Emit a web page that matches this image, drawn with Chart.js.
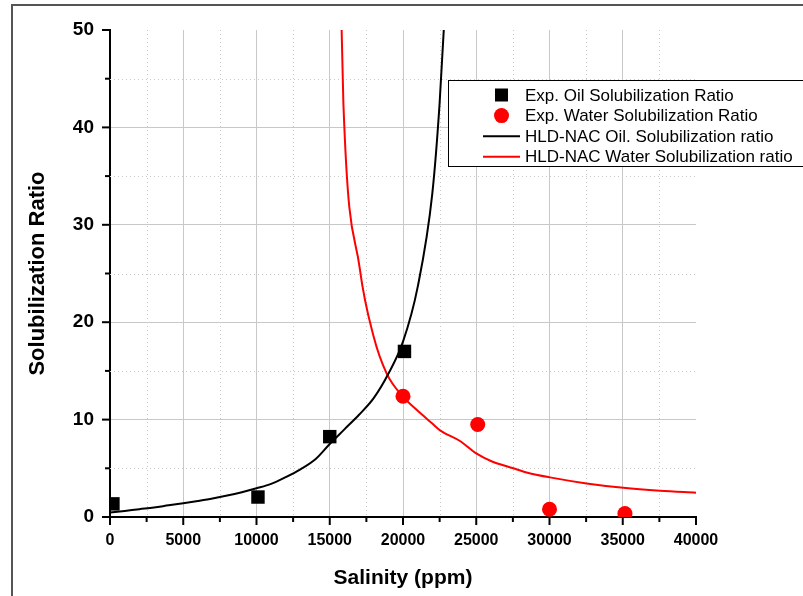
<!DOCTYPE html>
<html>
<head>
<meta charset="utf-8">
<script src="https://cdn.jsdelivr.net/npm/chart.js@4.4.1/dist/chart.umd.min.js"></script>
<style>
  html, body { margin: 0; padding: 0; background: #fff; }
  #wrap { width: 803px; height: 596px; }
</style>
</head>
<body>
<div id="wrap"><canvas id="myChart" width="803" height="596"></canvas></div>
<script>
// experimental points
var oilSalinity = [200, 10100, 15000, 20100];
var oilRatio = [1.35, 2.05, 8.25, 17.0];
var waterSalinity = [20000, 25100, 30000, 35150];
var waterRatio = [12.4, 9.5, 0.8, 0.35];

// HLD-NAC model curves
var oilCurveSalinity = [0, 1000, 2000, 3000, 4000, 5000, 6000, 7000, 8000, 9000, 10000, 11000, 12000,
  13000, 14000, 15000, 16000, 17000, 18000, 19000, 20000, 21000, 22000, 22500, 23000];
var oilCurveRatio = [0.45, 0.62, 0.8, 0.97, 1.2, 1.42, 1.65, 1.9, 2.2, 2.55, 2.95, 3.4, 4.1,
  4.9, 5.9, 7.5, 9.0, 10.5, 12.2, 14.7, 18.0, 23.6, 33.2, 42.5, 56];
var waterCurveSalinity = [15770, 15930, 17050, 18000, 18880, 20000, 20930, 22000, 22530, 23890,
  25030, 26000, 27530, 28500, 30030, 32530, 35040, 37540, 40000];
var waterCurveRatio = [53, 42.5, 25.5, 18.5, 14.75, 12.35, 11.0, 9.6, 8.9, 7.8,
  6.5, 5.75, 5.0, 4.55, 4.07, 3.45, 3.0, 2.7, 2.5];

var xTicks = [0, 5000, 10000, 15000, 20000, 25000, 30000, 35000, 40000];
var yTicks = [0, 10, 20, 30, 40, 50];

var FONT = 'Arial, "Liberation Sans", sans-serif';

function pairs(xs, ys) {
  return xs.map(function (x, i) { return { x: x, y: ys[i] }; });
}

// minor dotted grid, tick marks, outer frame and legend box
var decorations = {
  id: 'decorations',
  beforeDatasetsDraw: function (chart) {
    var ctx = chart.ctx, a = chart.chartArea;
    var xs = chart.scales.x, ys = chart.scales.y;
    ctx.save();
    ctx.strokeStyle = '#c8c8c8';
    ctx.lineWidth = 1;
    ctx.setLineDash([1, 3]);
    for (var v = 2500; v < 40000; v += 5000) {
      var px = Math.round(xs.getPixelForValue(v)) + 0.5;
      ctx.beginPath(); ctx.moveTo(px, a.top); ctx.lineTo(px, a.bottom); ctx.stroke();
    }
    for (var w = 5; w < 50; w += 10) {
      var py = Math.round(ys.getPixelForValue(w)) + 0.5;
      ctx.beginPath(); ctx.moveTo(a.left, py); ctx.lineTo(a.right, py); ctx.stroke();
    }
    ctx.restore();
  },
  afterDraw: function (chart) {
    var ctx = chart.ctx, a = chart.chartArea;
    var xs = chart.scales.x, ys = chart.scales.y;
    ctx.save();
    // tick marks
    ctx.strokeStyle = '#000';
    ctx.lineWidth = 2;
    for (var v = 0; v <= 40000; v += 2500) {
      var px = xs.getPixelForValue(v);
      var len = v % 5000 === 0 ? 8 : 5;
      ctx.beginPath(); ctx.moveTo(px, a.bottom); ctx.lineTo(px, a.bottom + len); ctx.stroke();
    }
    for (var w = 0; w <= 50; w += 5) {
      var py = ys.getPixelForValue(w);
      var l2 = w % 10 === 0 ? 8 : 5;
      ctx.beginPath(); ctx.moveTo(a.left, py); ctx.lineTo(a.left - l2, py); ctx.stroke();
    }
    // outer frame
    ctx.strokeStyle = '#555';
    ctx.lineWidth = 2;
    ctx.beginPath();
    ctx.moveTo(12, chart.height);
    ctx.lineTo(12, 5);
    ctx.lineTo(chart.width, 5);
    ctx.stroke();

    // legend
    var lx = 448.5, ly = 80.5, lw = 360, lh = 86;
    ctx.fillStyle = '#fff';
    ctx.fillRect(lx, ly, lw, lh);
    ctx.strokeStyle = '#000';
    ctx.lineWidth = 1;
    ctx.strokeRect(lx, ly, lw, lh);
    ctx.font = '17px ' + FONT;
    ctx.textBaseline = 'middle';
    ctx.textAlign = 'left';
    chart.data.datasets.forEach(function (ds, i) {
      var cy = 95 + i * 20.6;
      ctx.fillStyle = ds.borderColor;
      ctx.strokeStyle = ds.borderColor;
      if (ds.showLine) {
        ctx.lineWidth = 2;
        ctx.beginPath(); ctx.moveTo(483, cy); ctx.lineTo(520, cy); ctx.stroke();
      } else if (ds.pointStyle === 'rect') {
        ctx.fillRect(495, cy - 6.5, 13, 13);
      } else {
        ctx.beginPath(); ctx.arc(501.5, cy, 7.5, 0, Math.PI * 2); ctx.fill();
      }
      ctx.fillStyle = '#000';
      ctx.fillText(ds.label, 525, cy + 1);
    });
    ctx.restore();
  }
};

var ctx = document.getElementById('myChart').getContext('2d');
var myChart = new Chart(ctx, {
  type: 'scatter',
  data: {
    datasets: [
      {
        label: 'Exp. Oil Solubilization Ratio',
        data: pairs(oilSalinity, oilRatio),
        pointStyle: 'rect',
        pointRadius: 9.5,
        backgroundColor: '#000',
        borderColor: '#000',
        borderWidth: 0
      },
      {
        label: 'Exp. Water Solubilization Ratio',
        data: pairs(waterSalinity, waterRatio),
        pointStyle: 'circle',
        pointRadius: 7.5,
        backgroundColor: '#ff0000',
        borderColor: '#ff0000',
        borderWidth: 0
      },
      {
        label: 'HLD-NAC Oil. Solubilization ratio',
        data: pairs(oilCurveSalinity, oilCurveRatio),
        showLine: true,
        pointRadius: 0,
        borderColor: '#000',
        borderWidth: 2,
        cubicInterpolationMode: 'monotone'
      },
      {
        label: 'HLD-NAC Water Solubilization ratio',
        data: pairs(waterCurveSalinity, waterCurveRatio),
        showLine: true,
        pointRadius: 0,
        borderColor: '#ff0000',
        borderWidth: 2,
        cubicInterpolationMode: 'monotone'
      }
    ]
  },
  options: {
    responsive: false,
    animation: false,
    layout: { padding: { left: 0, right: 107, top: 30, bottom: 0 } },
    plugins: {
      legend: { display: false },
      tooltip: { enabled: false }
    },
    scales: {
      x: {
        type: 'linear',
        min: 0,
        max: 40000,
        afterBuildTicks: function (s) { s.ticks = xTicks.map(function (v) { return { value: v }; }); },
        afterFit: function (s) { s.height = 79; },
        ticks: {
          color: '#000',
          padding: 14,
          maxRotation: 0,
          font: { family: FONT, size: 16, weight: 'bold' },
          callback: function (v) { return String(v); }
        },
        grid: {
          drawTicks: false,
          lineWidth: 1,
          color: function (c) { return c.tick && c.tick.value === 40000 ? 'rgba(0,0,0,0)' : '#c8c8c8'; }
        },
        border: { display: true, color: '#000', width: 2 },
        title: {
          display: true,
          text: 'Salinity (ppm)',
          color: '#000',
          font: { family: FONT, size: 21, weight: 'bold' },
          padding: { top: 0, bottom: 5 }
        }
      },
      y: {
        type: 'linear',
        min: 0,
        max: 50,
        afterBuildTicks: function (s) { s.ticks = yTicks.map(function (v) { return { value: v }; }); },
        afterFit: function (s) { s.width = 110; },
        ticks: {
          color: '#000',
          padding: 16,
          font: { family: FONT, size: 19, weight: 'bold' }
        },
        grid: {
          drawTicks: false,
          lineWidth: 1,
          color: function (c) { return c.tick && c.tick.value === 50 ? 'rgba(0,0,0,0)' : '#c8c8c8'; }
        },
        border: { display: true, color: '#000', width: 2 },
        title: {
          display: true,
          text: 'Solubilization Ratio',
          color: '#000',
          font: { family: FONT, size: 22, weight: 'bold' },
          padding: { top: 25, bottom: 0 }
        }
      }
    }
  },
  plugins: [decorations]
});
</script>
</body>
</html>
